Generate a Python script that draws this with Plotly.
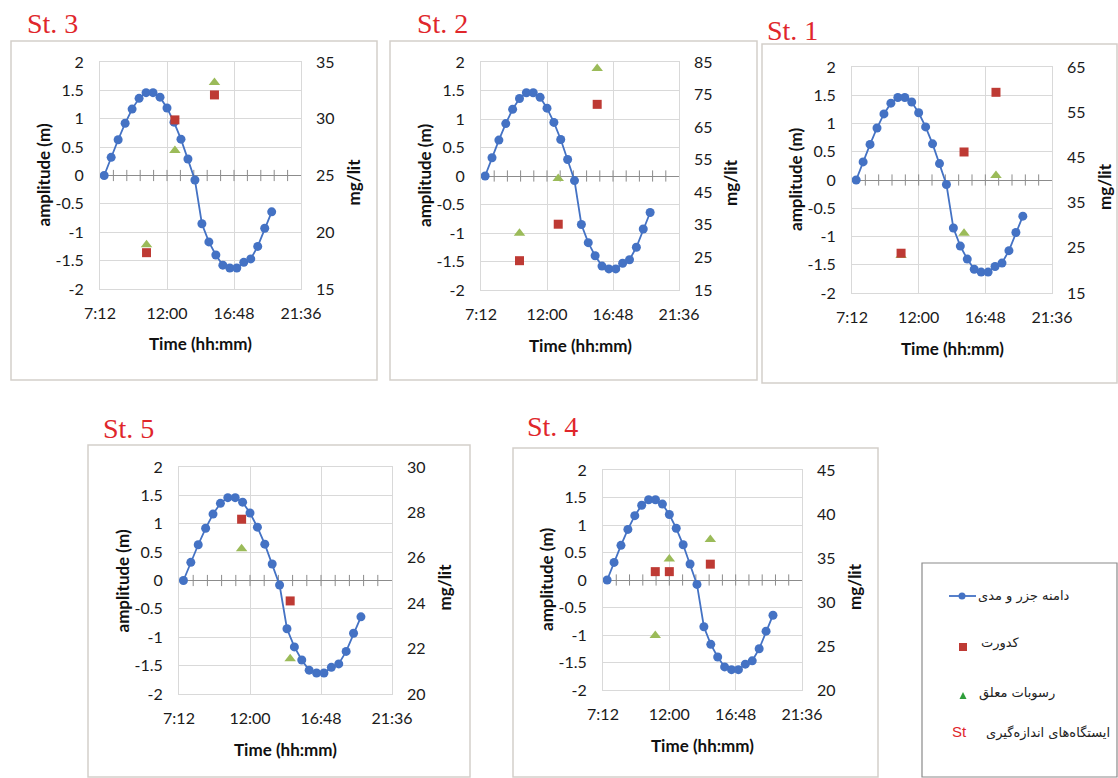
import plotly.graph_objects as go

W, H = 1118, 778

# ---------------- data ----------------
tide_times = ["7:30", "8:00", "8:30", "9:00", "9:30", "10:00", "10:30", "11:00", "11:30", "12:00",
              "12:30", "13:00", "13:30", "14:00", "14:30", "15:00", "15:30", "16:00", "16:30", "17:00",
              "17:30", "18:00", "18:30", "19:00", "19:30"]
tide_amplitude = [0.00, 0.32, 0.63, 0.92, 1.17, 1.36, 1.46, 1.46, 1.38, 1.19,
                  0.94, 0.64, 0.29, -0.08, -0.85, -1.17, -1.40, -1.58, -1.63, -1.63,
                  -1.53, -1.47, -1.25, -0.93, -0.64]

station_names = ["St. 3", "St. 2", "St. 1", "St. 5", "St. 4"]

st3_times = ["10:32", "12:34", "15:24"]
st3_turbidity = [18.2, 29.9, 32.1]
st3_tss = [18.9, 27.2, 33.2]

st2_times = ["10:00", "12:49", "15:39"]
st2_turbidity = [24.0, 35.2, 72.0]
st2_tss = [32.4, 49.2, 83.0]

st1_times = ["10:44", "15:16", "17:34"]
st1_turbidity = [23.8, 46.2, 59.4]
st1_tss = [23.3, 28.2, 41.0]

st5_times = ["11:26", "14:43"]
st5_turbidity = [27.7, 24.1]
st5_tss = [26.4, 21.55]

st4_times = ["10:59", "12:00", "14:58"]
st4_turbidity = [33.45, 33.45, 34.3]
st4_tss = [26.2, 34.9, 37.1]

mg_ranges = [[15, 35], [15, 85], [15, 65], [20, 30], [20, 45]]
mg_dticks = [5, 10, 10, 2, 5]

amp_ticks = [-2, -1.5, -1, -0.5, 0, 0.5, 1, 1.5, 2]
time_ticks = ["7:12", "12:00", "16:48", "21:36"]

legend_labels = ["دامنه جزر و مدی", "کدورت", "رسوبات معلق", "ایستگاه\u200cهای اندازه\u200cگیری"]
legend_st = "St"

# ---------------- helpers ----------------
def frac(t):
    h, m = t.split(":")
    return (int(h) * 60 + int(m)) / 1440.0

def px(x):
    return x / W

def py(y):
    return 1 - y / H

station_data = [
    (st3_times, st3_turbidity, st3_tss),
    (st2_times, st2_turbidity, st2_tss),
    (st1_times, st1_turbidity, st1_tss),
    (st5_times, st5_turbidity, st5_tss),
    (st4_times, st4_turbidity, st4_tss),
]

# geometry: plot area (l, t, r, b), frame box (l, t, r, b), title pos (left x, center y)
geometry = [
    dict(plot=(100, 62, 301, 289), box=(11, 41, 377, 380), title=(25, 23)),
    dict(plot=(481, 62, 679, 290), box=(390, 41, 757, 380), title=(415, 23)),
    dict(plot=(852, 67, 1052, 293), box=(762, 44, 1117, 383), title=(765, 30)),
    dict(plot=(179, 467, 392, 694), box=(88, 445, 470, 777), title=(101, 429)),
    dict(plot=(603, 470, 802, 690), box=(513, 448, 878, 777), title=(525, 426)),
]

BLUE = "#4472C4"
RED = "#BE3A34"
GREEN = "#9BBB59"
GRID = "#D9D9D9"
TICKFONT = dict(family="Lato, 'Open Sans', sans-serif", size=16, color="#1a1a1a")
TITLEFONT = dict(family="Lato, 'Open Sans', sans-serif", size=17, color="#111")

x_tickvals = [frac(t) for t in time_ticks]
x_min, x_max = x_tickvals[0], x_tickvals[-1]

fig = go.Figure()
layout = dict(width=W, height=H, margin=dict(l=0, r=0, t=0, b=0, autoexpand=False),
              paper_bgcolor="white", plot_bgcolor="white", showlegend=False,
              template="none")
shapes = []
annotations = []

for i, (name, (times, turb, tss), g) in enumerate(zip(station_names, station_data, geometry)):
    xi = i + 1
    yl = 2 * i + 1
    yr = 2 * i + 2
    xname = "x" if xi == 1 else f"x{xi}"
    ylname = "y" if yl == 1 else f"y{yl}"
    yrname = f"y{yr}"
    l, t, r, b = g["plot"]

    layout["xaxis" if xi == 1 else f"xaxis{xi}"] = dict(
        domain=[px(l), px(r)], anchor=ylname, range=[x_min, x_max],
        tickvals=x_tickvals, ticktext=time_ticks, ticks="", ticklabelstandoff=10,
        showgrid=True, gridcolor=GRID, gridwidth=1, zeroline=False,
        showline=True, linecolor=GRID, linewidth=1, mirror=True, automargin=False,
        tickfont=TICKFONT, fixedrange=True)
    layout["yaxis" if yl == 1 else f"yaxis{yl}"] = dict(
        domain=[py(b), py(t)], anchor=xname, range=[-2, 2],
        tickvals=amp_ticks, ticktext=[f"{v:g}" for v in amp_ticks], ticks="",
        ticklabelstandoff=12, automargin=False,
        showgrid=True, gridcolor=GRID, gridwidth=1,
        zeroline=True, zerolinecolor="#8C8C8C", zerolinewidth=1,
        showline=True, linecolor=GRID, linewidth=1, mirror=True,
        tickfont=TICKFONT, fixedrange=True)
    lo, hi = mg_ranges[i]
    layout[f"yaxis{yr}"] = dict(
        domain=[py(b), py(t)], anchor=xname, overlaying=ylname, side="right",
        range=[lo, hi], dtick=mg_dticks[i], tick0=lo, ticks="", ticklabelstandoff=14,
        showgrid=False, zeroline=False, showline=False, automargin=False,
        tickfont=TICKFONT, fixedrange=True)

    # tick marks crossing the zero line
    step = 0.04
    n = int(round((x_max - x_min) / step))
    fig.add_trace(go.Scatter(
        x=[x_min + k * step for k in range(1, n)], y=[0] * (n - 1),
        xaxis=xname, yaxis=ylname, mode="markers",
        marker=dict(symbol="line-ns", size=8, line=dict(color="#8C8C8C", width=1)),
        hoverinfo="skip"))

    # tide curve
    fig.add_trace(go.Scatter(
        x=[frac(tt) for tt in tide_times], y=tide_amplitude,
        xaxis=xname, yaxis=ylname, mode="lines+markers",
        line=dict(color=BLUE, width=1.8),
        marker=dict(symbol="circle", size=9, color=BLUE),
        name=legend_labels[0]))

    # suspended sediment (triangles) and turbidity (squares)
    fig.add_trace(go.Scatter(
        x=[frac(tt) for tt in times], y=tss, xaxis=xname, yaxis=yrname,
        mode="markers", marker=dict(symbol="triangle-up", size=10, color=GREEN),
        name=legend_labels[2]))
    fig.add_trace(go.Scatter(
        x=[frac(tt) for tt in times], y=turb, xaxis=xname, yaxis=yrname,
        mode="markers", marker=dict(symbol="square", size=9, color=RED),
        name=legend_labels[1]))

    # frame
    bl, bt, br, bb = g["box"]
    shapes.append(dict(type="rect", xref="paper", yref="paper",
                       x0=px(bl), x1=px(br), y0=py(bb), y1=py(bt),
                       line=dict(color="#D4CFCA", width=1.5), layer="below"))
    # station title
    tx, ty = g["title"]
    annotations.append(dict(text=name, xref="paper", yref="paper", x=px(tx), y=py(ty),
                            xanchor="left", yanchor="middle", showarrow=False,
                            font=dict(family="'Liberation Serif', 'Times New Roman', serif",
                                      size=28, color="#E0262B")))
    cy = (t + b) / 2
    cx = (l + r) / 2
    annotations.append(dict(text="<b>amplitude (m)</b>", xref="paper", yref="paper",
                            x=px(l - 57), y=py(cy), textangle=-90, showarrow=False,
                            xanchor="center", yanchor="middle", font=TITLEFONT))
    annotations.append(dict(text="<b>mg/lit</b>", xref="paper", yref="paper",
                            x=px(r + 52), y=py(cy + 7), textangle=-90, showarrow=False,
                            xanchor="center", yanchor="middle", font=TITLEFONT))
    annotations.append(dict(text="<b>Time (hh:mm)</b>", xref="paper", yref="paper",
                            x=px(cx), y=py(b + 55), showarrow=False,
                            xanchor="center", yanchor="middle", font=TITLEFONT))

# ---------------- custom legend box ----------------
shapes.append(dict(type="rect", xref="paper", yref="paper",
                   x0=px(922), x1=px(1117), y0=py(777), y1=py(563),
                   line=dict(color="#8A8A8A", width=1.2)))
# tide symbol
shapes.append(dict(type="line", xref="paper", yref="paper",
                   x0=px(949), x1=px(976), y0=py(596), y1=py(596),
                   line=dict(color=BLUE, width=1.8)))
shapes.append(dict(type="circle", xref="paper", yref="paper",
                   x0=px(958.5), x1=px(965.5), y0=py(599.5), y1=py(592.5),
                   fillcolor=BLUE, line=dict(color=BLUE, width=0)))
# turbidity symbol
shapes.append(dict(type="rect", xref="paper", yref="paper",
                   x0=px(959), x1=px(967), y0=py(651), y1=py(643),
                   fillcolor=RED, line=dict(color=RED, width=0)))
# sediment symbol
shapes.append(dict(type="path", xref="paper", yref="paper",
                   path=f"M {px(959.5)} {py(699)} L {px(966.5)} {py(699)} L {px(963)} {py(692)} Z",
                   fillcolor="#2E9E3A", line=dict(color="#2E9E3A", width=0)))

LEGFONT = dict(family="'DejaVu Sans', 'Noto Sans', sans-serif", size=13, color="#222")
for lbl, rx, ly in zip(legend_labels, [1072, 1022, 1057, 1112], [596, 643, 693, 733]):
    annotations.append(dict(text=lbl, xref="paper", yref="paper", x=px(rx), y=py(ly),
                            xanchor="right", yanchor="middle", showarrow=False, font=LEGFONT))
annotations.append(dict(text=legend_st, xref="paper", yref="paper", x=px(959), y=py(731),
                        xanchor="center", yanchor="middle", showarrow=False,
                        font=dict(family="'Liberation Sans', Arial, sans-serif", size=15, color="#E0262B")))

layout["shapes"] = shapes
layout["annotations"] = annotations
fig.update_layout(**layout)

fig.write_html("out.html", config={"displayModeBar": False},
               post_script="document.body.style.margin='0';document.body.style.overflow='hidden';")
